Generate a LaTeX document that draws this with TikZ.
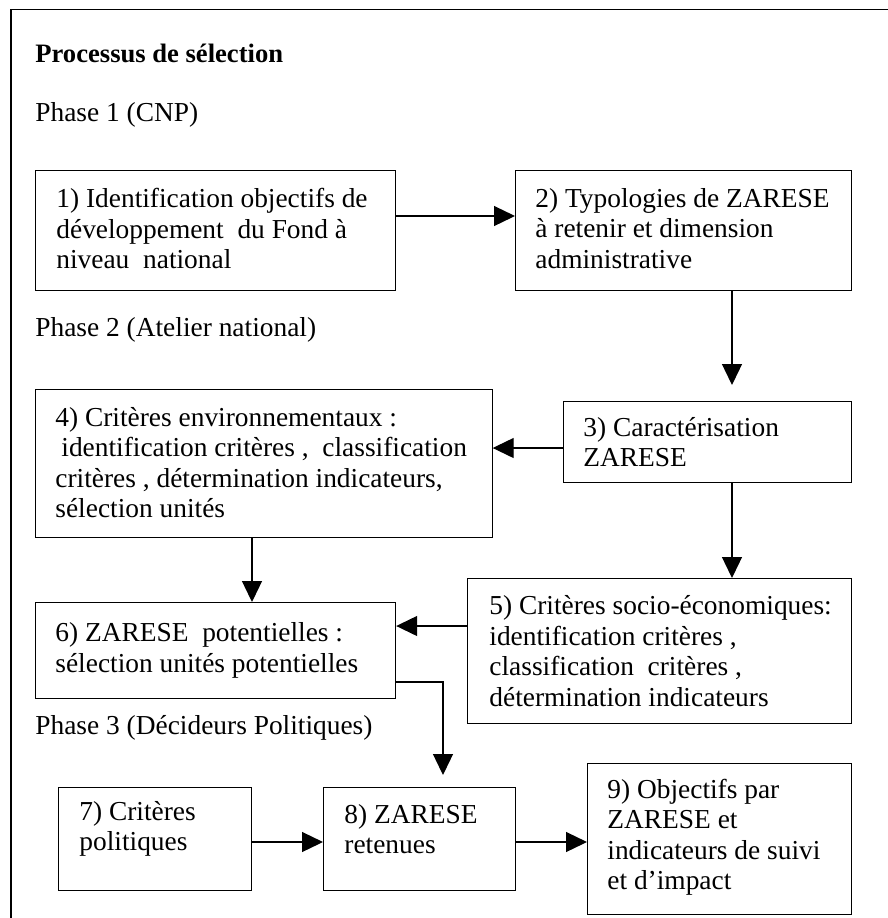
\documentclass[tikz,border=0pt]{standalone}
\usepackage{fontspec}
\setmainfont{Liberation Serif}
\usetikzlibrary{arrows.meta,calc}
\begin{document}
\begin{tikzpicture}[x=0.5pt,y=-0.5pt,
  every node/.style={font=\fontsize{13.7pt}{15.25pt}\selectfont},
  box/.style={draw,line width=0.6pt,anchor=north west,inner sep=0pt},
  txt/.style={anchor=west,align=left,inner sep=0pt},
  lbl/.style={anchor=west,inner sep=0pt},
  arr/.style={line width=0.65pt,-{Triangle[length=10.5pt,width=10pt]}}]
\useasboundingbox (0,0) rectangle (888,918);
% frame
\draw[line width=0.7pt] (11,918) -- (11,9.5) -- (888,9.5);
% labels
\node[lbl,font=\fontsize{13.3pt}{15.25pt}\selectfont\bfseries] (title) at (35,53) {Processus de sélection};
\node[lbl] (ph1) at (35,115) {Phase 1 (CNP)};
\node[lbl] (ph2) at (35,330) {Phase 2 (Atelier national)};
\node[lbl] (ph3) at (35,728) {Phase 3 (Décideurs Politiques)};
% boxes
\node[box,minimum width=180pt,minimum height=60pt] (b1) at (35,170) {};
\node[box,minimum width=168pt,minimum height=60pt] (b2) at (515,170) {};
\node[box,minimum width=144pt,minimum height=40.5pt] (b3) at (563,401) {};
\node[box,minimum width=228.25pt,minimum height=74pt] (b4) at (35,389) {};
\node[box,minimum width=192pt,minimum height=72.5pt] (b5) at (467,578) {};
\node[box,minimum width=180pt,minimum height=48pt] (b6) at (35,602) {};
\node[box,minimum width=96.5pt,minimum height=51.5pt] (b7) at (58,787) {};
\node[box,minimum width=96pt,minimum height=51.5pt] (b8) at (323,787) {};
\node[box,minimum width=132pt,minimum height=75.5pt] (b9) at (587,763) {};
% texts
\node[txt] (t1) at ($(b1.west)+(21,-2)$) {1) Identification objectifs de\\développement~ du Fond à\\niveau~ national};
\node[txt] (t2) at ($(b2.west)+(20,-2)$) {2) Typologies de ZARESE\\à retenir et dimension\\administrative};
\node[txt] (t3) at ($(b3.west)+(20,0)$) {3) Caractérisation\\ZARESE};
\node[txt] (t4) at ($(b4.west)+(20,-1)$) {4) Critères environnementaux :\\\hspace{3pt}identification critères ,~ classification\\critères , détermination indicateurs,\\sélection unités};
\node[txt] (t5) at ($(b5.west)+(22,0)$) {5) Critères socio-économiques:\\identification critères ,\\classification~ critères ,\\détermination indicateurs};
\node[txt] (t6) at ($(b6.west)+(20,0)$) {6) ZARESE~ potentielles :\\sélection unités potentielles};
\node[txt] (t7) at ($(b7.west)+(21,-10)$) {7) Critères\\politiques};
\node[txt] (t8) at ($(b8.west)+(21,-10)$) {8) ZARESE\\retenues};
\node[txt] (t9) at ($(b9.west)+(20,-2)$) {9) Objectifs par\\ZARESE et\\indicateurs de suivi\\et d’impact};
% helper coordinates
\coordinate (y216) at (0,216);
\coordinate (x732) at (732,0);
\coordinate (y448) at (0,448);
\coordinate (x252) at (252,0);
\coordinate (y626) at (0,626);
\coordinate (y682) at (0,682);
\coordinate (x443) at (443,0);
\coordinate (y842) at (0,842);
% connectors
\draw[arr] (b1.east |- y216) -- (b2.west |- y216);
\draw[arr,shorten >=8pt] (b2.south -| x732) -- (b3.north -| x732);
\draw[arr] (b3.west |- y448) -- (b4.east |- y448);
\draw[arr] (b3.south -| x732) -- (b5.north -| x732);
\draw[arr] (b4.south -| x252) -- (b6.north -| x252);
\draw[arr] (b5.west |- y626) -- (b6.east |- y626);
\draw[arr,shorten >=6pt] (b6.east |- y682) -| (b8.north -| x443);
\draw[arr] (b7.east |- y842) -- (b8.west |- y842);
\draw[arr] (b8.east |- y842) -- (b9.west |- y842);
\end{tikzpicture}
\end{document}
